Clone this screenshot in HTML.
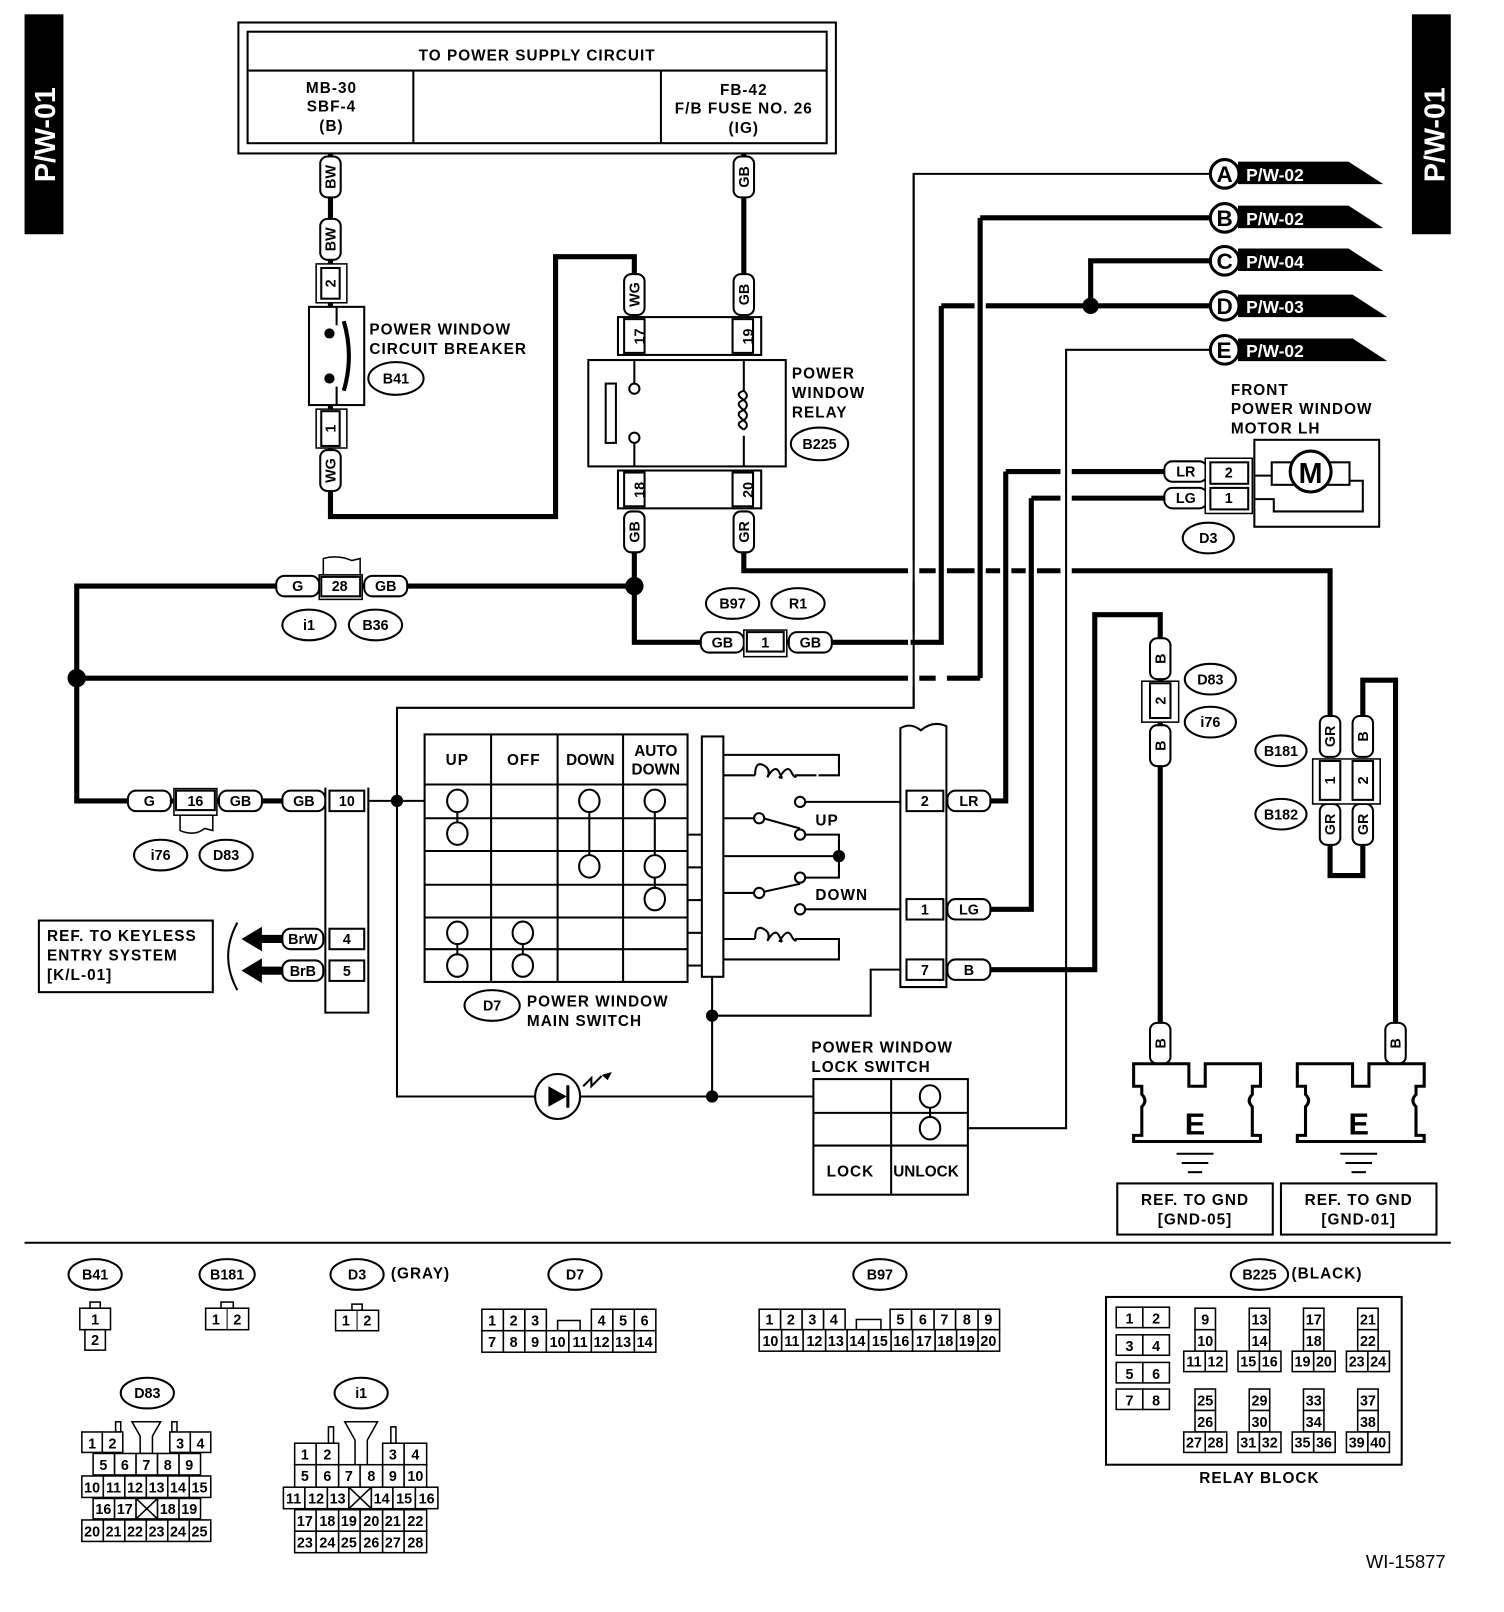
<!DOCTYPE html>
<html><head><meta charset="utf-8"><style>
html,body{margin:0;padding:0;background:#fff}
svg{display:block}
text{font-family:"Liberation Sans",sans-serif;font-weight:bold;fill:#000}
.w{fill:none;stroke:#000;stroke-width:5;stroke-linejoin:miter}
.h{fill:none;stroke:#fff;stroke-width:11}
.n{fill:none;stroke:#000;stroke-width:2}
.b{fill:#fff;stroke:#000;stroke-width:2}
.k{fill:#fff;stroke:#000;stroke-width:1.5}
.l{font-size:15px;letter-spacing:1px}
.s{font-size:14px}
.c{font-size:14px;font-weight:normal}
</style></head><body>
<svg width="1504" height="1612" viewBox="0 0 1470 1576" preserveAspectRatio="none" xmlns="http://www.w3.org/2000/svg">
<rect x="24" y="14" width="38" height="215" fill="#000"/>
<text transform="translate(54,178) rotate(-90)" font-size="28" style="fill:#fff">P/W-01</text>
<rect x="1380" y="14" width="38" height="215" fill="#000"/>
<text transform="translate(1412,178) rotate(-90)" font-size="28" style="fill:#fff">P/W-01</text>

<rect x="233" y="22" width="584" height="128" class="b"/>
<rect x="242" y="31" width="566" height="109" class="b"/>
<line x1="242" y1="69" x2="808" y2="69" class="n"/>
<line x1="404" y1="69" x2="404" y2="140" class="n"/>
<line x1="646" y1="69" x2="646" y2="140" class="n"/>
<g class="l" text-anchor="middle">
<text x="525" y="59">TO POWER SUPPLY CIRCUIT</text>
<text x="324" y="91">MB-30</text><text x="324" y="109">SBF-4</text><text x="324" y="128">(B)</text>
<text x="727" y="93">FB-42</text><text x="727" y="111">F/B FUSE NO. 26</text><text x="727" y="130">(IG)</text>
</g>

<polyline class="w" points="323,150 323,505 543,505 543,251 620,251 620,270"/>
<line class="w" x1="727" y1="150" x2="727" y2="270"/>
<polyline class="w" points="318,783 75,783 75,573 620,573"/>
<polyline class="w" points="620,540 620,628 890,628"/>
<line class="w" x1="75" y1="663" x2="958" y2="663"/>
<polyline class="w" points="727,540 727,558 1300,558 1300,705"/>
<polyline class="n" points="1183,170 893,170 893,692 388,692 388,1072 795,1072"/>
<polyline class="w" points="1183,213 958,213"/>
<polyline class="w" points="1183,299 920,299"/>
<polyline class="w" points="1183,255 1066,255 1066,299"/>
<polyline class="w" points="1140,461 983,461"/>
<polyline class="w" points="1140,487 1008,487"/>
<line class="h" x1="893" y1="548" x2="893" y2="568"/>
<line class="h" x1="920" y1="548" x2="920" y2="568"/>
<line class="h" x1="958" y1="548" x2="958" y2="568"/>
<line class="h" x1="983" y1="548" x2="983" y2="568"/>
<line class="h" x1="1008" y1="548" x2="1008" y2="568"/>
<line class="h" x1="1042" y1="548" x2="1042" y2="568"/>
<line class="h" x1="958" y1="290" x2="958" y2="308"/>
<line class="h" x1="1042" y1="452" x2="1042" y2="496"/>
<line class="h" x1="893" y1="620" x2="893" y2="672"/>
<line class="h" x1="920" y1="655" x2="920" y2="672"/>
<line class="n" x1="893" y1="170" x2="893" y2="692"/>
<polyline class="w" points="958,213 958,663"/>
<polyline class="w" points="920,299 920,628 890,628"/>
<polyline class="w" points="983,461 983,783 968,783"/>
<polyline class="w" points="1008,487 1008,889 968,889"/>
<polyline class="n" points="1183,342 1042,342 1042,1103 946,1103"/>
<polyline class="w" points="968,948 1070,948 1070,601 1134,601 1134,1000"/>
<polyline class="w" points="1332,705 1332,665 1364,665 1364,1000"/>
<polyline class="w" points="1300,825 1300,856 1332,856 1332,825"/>
<circle cx="1066" cy="299" r="8"/>
<circle cx="620" cy="573" r="9"/>
<circle cx="75" cy="663" r="9"/>

<g font-size="22">
<g><path d="M1210,158 L1318,158 L1352,180 L1210,180Z"/><circle cx="1197" cy="170" r="14" class="b" style="stroke-width:3"/><text x="1189" y="178">A</text><text x="1218" y="177" font-size="17" style="fill:#fff">P/W-02</text></g>
<g><path d="M1210,201 L1318,201 L1352,223 L1210,223Z"/><circle cx="1197" cy="213" r="14" class="b" style="stroke-width:3"/><text x="1189" y="221">B</text><text x="1218" y="220" font-size="17" style="fill:#fff">P/W-02</text></g>
<g><path d="M1210,243 L1318,243 L1352,265 L1210,265Z"/><circle cx="1197" cy="255" r="14" class="b" style="stroke-width:3"/><text x="1189" y="263">C</text><text x="1218" y="262" font-size="17" style="fill:#fff">P/W-04</text></g>
<g><path d="M1210,288 L1322,288 L1356,310 L1210,310Z"/><circle cx="1197" cy="299" r="14" class="b" style="stroke-width:3"/><text x="1189" y="307">D</text><text x="1218" y="306" font-size="17" style="fill:#fff">P/W-03</text></g>
<g><path d="M1210,331 L1322,331 L1356,353 L1210,353Z"/><circle cx="1197" cy="342" r="14" class="b" style="stroke-width:3"/><text x="1189" y="350">E</text><text x="1218" y="349" font-size="17" style="fill:#fff">P/W-02</text></g>
</g>

<g class="s" text-anchor="middle">
<rect x="313" y="153" width="20" height="40" rx="7" class="b"/><text transform="translate(328,173) rotate(-90)">BW</text>
<rect x="313" y="214" width="20" height="40" rx="7" class="b"/><text transform="translate(328,234) rotate(-90)">BW</text>
<rect x="313" y="440" width="20" height="40" rx="7" class="b"/><text transform="translate(328,460) rotate(-90)">WG</text>
<rect x="717" y="153" width="20" height="40" rx="7" class="b"/><text transform="translate(732,173) rotate(-90)">GB</text>
<rect x="717" y="268" width="20" height="40" rx="7" class="b"/><text transform="translate(732,288) rotate(-90)">GB</text>
<rect x="610" y="268" width="20" height="40" rx="7" class="b"/><text transform="translate(625,288) rotate(-90)">WG</text>
<rect x="610" y="500" width="20" height="40" rx="7" class="b"/><text transform="translate(625,520) rotate(-90)">GB</text>
<rect x="717" y="500" width="20" height="40" rx="7" class="b"/><text transform="translate(732,520) rotate(-90)">GR</text>
<rect x="1124" y="624" width="20" height="40" rx="7" class="b"/><text transform="translate(1139,644) rotate(-90)">B</text>
<rect x="1124" y="709" width="20" height="40" rx="7" class="b"/><text transform="translate(1139,729) rotate(-90)">B</text>
<rect x="1124" y="1000" width="20" height="40" rx="7" class="b"/><text transform="translate(1139,1020) rotate(-90)">B</text>
<rect x="1354" y="1000" width="20" height="40" rx="7" class="b"/><text transform="translate(1369,1020) rotate(-90)">B</text>
<rect x="1290" y="700" width="20" height="40" rx="7" class="b"/><text transform="translate(1305,720) rotate(-90)">GR</text>
<rect x="1322" y="700" width="20" height="40" rx="7" class="b"/><text transform="translate(1337,720) rotate(-90)">B</text>
<rect x="1290" y="786" width="20" height="40" rx="7" class="b"/><text transform="translate(1305,806) rotate(-90)">GR</text>
<rect x="1322" y="786" width="20" height="40" rx="7" class="b"/><text transform="translate(1337,806) rotate(-90)">GR</text>
</g>
<rect x="309" y="258" width="30" height="38" class="k"/><rect x="314" y="262" width="18" height="30" class="b"/><text x="323" y="277" class="s" text-anchor="middle" transform="rotate(-90 323 277)" dy="5">2</text>
<rect x="309" y="400" width="30" height="38" class="k"/><rect x="314" y="402" width="18" height="34" class="b"/><text x="323" y="419" class="s" text-anchor="middle" transform="rotate(-90 323 419)" dy="5">1</text>
<rect x="302" y="300" width="54" height="96" class="b"/>
<line x1="329" y1="300" x2="329" y2="318" class="n"/><line x1="329" y1="378" x2="329" y2="396" class="n"/>
<path d="M336,314 Q346,348 336,382" class="n" style="stroke-width:4"/>
<circle cx="322" cy="326" r="5"/><circle cx="322" cy="370" r="5"/>
<g class="l"><text x="361" y="327">POWER WINDOW</text><text x="361" y="346">CIRCUIT BREAKER</text></g>
<ellipse cx="387" cy="370" rx="27" ry="16" class="b"/><text x="387" y="375" class="s" text-anchor="middle">B41</text>

<rect x="604" y="310" width="140" height="37" class="b"/>
<rect x="610" y="312" width="20" height="33" class="b"/><rect x="716" y="312" width="20" height="33" class="b"/>
<text transform="translate(625,329) rotate(-90)" class="s" text-anchor="middle" dy="5">17</text>
<text transform="translate(731,329) rotate(-90)" class="s" text-anchor="middle" dy="5">19</text>
<rect x="604" y="460" width="140" height="37" class="b"/>
<rect x="610" y="462" width="20" height="33" class="b"/><rect x="716" y="462" width="20" height="33" class="b"/>
<text transform="translate(625,479) rotate(-90)" class="s" text-anchor="middle" dy="5">18</text>
<text transform="translate(731,479) rotate(-90)" class="s" text-anchor="middle" dy="5">20</text>
<rect x="575" y="352" width="193" height="104" class="b"/>
<rect x="592" y="375" width="10" height="58" class="b"/>
<line x1="620" y1="352" x2="620" y2="375" class="n"/><circle cx="620" cy="380" r="5" class="b"/>
<line x1="620" y1="456" x2="620" y2="433" class="n"/><circle cx="620" cy="428" r="5" class="b"/>
<line x1="727" y1="352" x2="727" y2="382" class="n"/><line x1="727" y1="426" x2="727" y2="456" class="n"/>
<path d="M727,382 q-10,3 0,9 q-10,3 0,10 q-10,3 0,10 q-10,3 0,9 M727,382 q6,5 0,9 q6,5 0,10 q6,5 0,10 q6,5 0,9" class="n"/>
<g class="l"><text x="774" y="370">POWER</text><text x="774" y="389">WINDOW</text><text x="774" y="408">RELAY</text></g>
<ellipse cx="801" cy="434" rx="28" ry="16" class="b"/><text x="801" y="439" class="s" text-anchor="middle">B225</text>

<g class="s" text-anchor="middle">
<rect x="270" y="563" width="42" height="20" rx="8" class="b"/><text x="291" y="578">G</text>
<rect x="356" y="563" width="42" height="20" rx="8" class="b"/><text x="377" y="578">GB</text>
<rect x="685" y="618" width="42" height="20" rx="8" class="b"/><text x="706" y="633">GB</text>
<rect x="771" y="618" width="42" height="20" rx="8" class="b"/><text x="792" y="633">GB</text>
<rect x="125" y="773" width="42" height="20" rx="8" class="b"/><text x="146" y="788">G</text>
<rect x="214" y="773" width="42" height="20" rx="8" class="b"/><text x="235" y="788">GB</text>
<rect x="276" y="773" width="42" height="20" rx="8" class="b"/><text x="297" y="788">GB</text>
<rect x="276" y="908" width="40" height="20" rx="8" class="b"/><text x="296" y="923">BrW</text>
<rect x="276" y="939" width="40" height="20" rx="8" class="b"/><text x="296" y="954">BrB</text>
<rect x="926" y="773" width="42" height="20" rx="8" class="b"/><text x="947" y="788">LR</text>
<rect x="926" y="879" width="42" height="20" rx="8" class="b"/><text x="947" y="894">LG</text>
<rect x="926" y="938" width="42" height="20" rx="8" class="b"/><text x="947" y="953">B</text>
<rect x="1138" y="451" width="42" height="20" rx="8" class="b"/><text x="1159" y="466">LR</text>
<rect x="1138" y="477" width="42" height="20" rx="8" class="b"/><text x="1159" y="492">LG</text>
</g>
<rect x="312" y="562" width="42" height="24" class="k"/><rect x="314" y="564" width="38" height="19" class="b"/><text x="332" y="578" class="s" text-anchor="middle">28</text>
<path d="M316,562 L316,546 Q330,542 344,548 L352,546 L352,562" class="n" style="stroke-width:1.5"/>
<rect x="727" y="616" width="42" height="26" class="k"/><rect x="730" y="618" width="36" height="19" class="b"/><text x="748" y="633" class="s" text-anchor="middle">1</text>
<rect x="170" y="771" width="42" height="26" class="k"/><rect x="172" y="773" width="38" height="19" class="b"/><text x="191" y="788" class="s" text-anchor="middle">16</text>
<path d="M176,797 L176,812 Q190,818 200,810 L208,812 L208,797" class="n" style="stroke-width:1.5"/>
<g class="s" text-anchor="middle">
<ellipse cx="302" cy="611" rx="26" ry="15" class="b"/><text x="302" y="616">i1</text>
<ellipse cx="367" cy="611" rx="26" ry="15" class="b"/><text x="367" y="616">B36</text>
<ellipse cx="716" cy="590" rx="26" ry="15" class="b"/><text x="716" y="595">B97</text>
<ellipse cx="780" cy="590" rx="26" ry="15" class="b"/><text x="780" y="595">R1</text>
<ellipse cx="157" cy="836" rx="26" ry="15" class="b"/><text x="157" y="841">i76</text>
<ellipse cx="221" cy="836" rx="26" ry="15" class="b"/><text x="221" y="841">D83</text>
<ellipse cx="1181" cy="526" rx="25" ry="15" class="b"/><text x="1181" y="531">D3</text>
<ellipse cx="1183" cy="664" rx="25" ry="15" class="b"/><text x="1183" y="669">D83</text>
<ellipse cx="1183" cy="706" rx="25" ry="15" class="b"/><text x="1183" y="711">i76</text>
<ellipse cx="1252" cy="734" rx="25" ry="15" class="b"/><text x="1252" y="739">B181</text>
<ellipse cx="1252" cy="796" rx="25" ry="15" class="b"/><text x="1252" y="801">B182</text>
<ellipse cx="481" cy="983" rx="27" ry="15" class="b"/><text x="481" y="988">D7</text>
</g>

<rect x="1178" y="448" width="46" height="54" class="k"/>
<rect x="1183" y="452" width="37" height="21" class="b"/><text x="1201" y="467" class="s" text-anchor="middle">2</text>
<rect x="1183" y="477" width="37" height="21" class="b"/><text x="1201" y="492" class="s" text-anchor="middle">1</text>
<rect x="1226" y="430" width="122" height="85" class="b"/>
<polyline class="n" points="1226,465 1243,465"/>
<rect x="1243" y="452" width="76" height="22" class="b"/>
<polyline class="n" points="1226,488 1245,488 1245,500 1332,500 1332,470 1319,470"/>
<circle cx="1281" cy="461" r="20" class="b" style="stroke-width:3"/><text x="1281" y="472" text-anchor="middle" font-size="28">M</text>
<g class="l"><text x="1203" y="386">FRONT</text><text x="1203" y="405">POWER WINDOW</text><text x="1203" y="424">MOTOR LH</text></g>

<rect x="1116" y="666" width="36" height="40" class="k"/><rect x="1124" y="668" width="20" height="34" class="b"/><text transform="translate(1134,685) rotate(-90)" class="s" text-anchor="middle" dy="5">2</text>
<rect x="1283" y="742" width="66" height="44" class="k"/>
<rect x="1290" y="744" width="20" height="38" class="b"/><rect x="1322" y="744" width="20" height="38" class="b"/>
<text transform="translate(1300,763) rotate(-90)" class="s" text-anchor="middle" dy="5">1</text>
<text transform="translate(1332,763) rotate(-90)" class="s" text-anchor="middle" dy="5">2</text>

<g>
<path d="M1108,1040 h54 v22 h16 v-22 h54 v22 h-8 v8 q-6,6 0,12 v28 h8 v6 h-124 v-6 h8 v-28 q6,-6 0,-12 v-8 h-8z" class="b" style="stroke-width:3"/>
<text x="1168" y="1109" text-anchor="middle" font-size="30">E</text>
<line x1="1150" y1="1128" x2="1186" y2="1128" class="n"/><line x1="1155" y1="1137" x2="1181" y2="1137" class="n"/><line x1="1161" y1="1146" x2="1175" y2="1146" class="n"/>
<rect x="1092" y="1157" width="152" height="50" class="b"/>
<text x="1168" y="1178" class="l" text-anchor="middle">REF. TO GND</text><text x="1168" y="1197" class="l" text-anchor="middle">[GND-05]</text>
<path d="M1268,1040 h54 v22 h16 v-22 h54 v22 h-8 v8 q-6,6 0,12 v28 h8 v6 h-124 v-6 h8 v-28 q6,-6 0,-12 v-8 h-8z" class="b" style="stroke-width:3"/>
<text x="1328" y="1109" text-anchor="middle" font-size="30">E</text>
<line x1="1310" y1="1128" x2="1346" y2="1128" class="n"/><line x1="1315" y1="1137" x2="1341" y2="1137" class="n"/><line x1="1321" y1="1146" x2="1335" y2="1146" class="n"/>
<rect x="1252" y="1157" width="152" height="50" class="b"/>
<text x="1328" y="1178" class="l" text-anchor="middle">REF. TO GND</text><text x="1328" y="1197" class="l" text-anchor="middle">[GND-01]</text>
</g>

<polyline class="n" points="360,783 415,783"/>
<circle cx="388" cy="783" r="6"/>
<path d="M318,770 L318,990 L360,990 L360,770" class="b"/>
<rect x="322" y="773" width="34" height="20" class="b"/><text x="339" y="788" class="s" text-anchor="middle">10</text>
<rect x="322" y="908" width="34" height="20" class="b"/><text x="339" y="923" class="s" text-anchor="middle">4</text>
<rect x="322" y="939" width="34" height="20" class="b"/><text x="339" y="954" class="s" text-anchor="middle">5</text>
<rect x="38" y="900" width="170" height="70" class="b"/>
<g class="l"><text x="46" y="920">REF. TO KEYLESS</text><text x="46" y="939">ENTRY SYSTEM</text><text x="46" y="958">[K/L-01]</text></g>
<path d="M232,902 Q214,935 232,968" class="n"/>
<path d="M236,918 L256,906 L256,914 L276,914 L276,922 L256,922 L256,930Z"/>
<path d="M236,949 L256,937 L256,945 L276,945 L276,953 L256,953 L256,961Z"/>

<rect x="415" y="718" width="257" height="242" class="b"/>
<g class="n">
<line x1="480" y1="718" x2="480" y2="960"/><line x1="545" y1="718" x2="545" y2="960"/><line x1="609" y1="718" x2="609" y2="960"/>
<line x1="415" y1="767" x2="672" y2="767"/><line x1="415" y1="800" x2="672" y2="800"/><line x1="415" y1="832" x2="672" y2="832"/>
<line x1="415" y1="865" x2="672" y2="865"/><line x1="415" y1="897" x2="672" y2="897"/><line x1="415" y1="928" x2="672" y2="928"/>
<line x1="447" y1="783" x2="447" y2="815"/><line x1="576" y1="783" x2="576" y2="847"/><line x1="640" y1="783" x2="640" y2="879"/>
<line x1="447" y1="912" x2="447" y2="944"/><line x1="511" y1="912" x2="511" y2="944"/>
</g>
<g class="b">
<ellipse cx="447" cy="783" rx="10" ry="11"/><ellipse cx="447" cy="815" rx="10" ry="11"/>
<ellipse cx="576" cy="783" rx="10" ry="11"/><ellipse cx="576" cy="847" rx="10" ry="11"/>
<ellipse cx="640" cy="783" rx="10" ry="11"/><ellipse cx="640" cy="847" rx="10" ry="11"/><ellipse cx="640" cy="879" rx="10" ry="11"/>
<ellipse cx="447" cy="912" rx="10" ry="11"/><ellipse cx="447" cy="944" rx="10" ry="11"/>
<ellipse cx="511" cy="912" rx="10" ry="11"/><ellipse cx="511" cy="944" rx="10" ry="11"/>
</g>
<g class="l" text-anchor="middle"><text x="447" y="748">UP</text><text x="512" y="748">OFF</text><text x="577" y="748" letter-spacing="0">DOWN</text><text x="641" y="739" letter-spacing="0">AUTO</text><text x="641" y="757" letter-spacing="0">DOWN</text></g>
<g class="n"><line x1="672" y1="816" x2="686" y2="816"/><line x1="672" y1="848" x2="686" y2="848"/><line x1="672" y1="880" x2="686" y2="880"/><line x1="672" y1="912" x2="686" y2="912"/><line x1="672" y1="944" x2="686" y2="944"/></g>
<rect x="686" y="720" width="21" height="235" class="b"/>
<g class="n">
<polyline points="707,738 820,738 820,758 800,758"/>
<polyline points="707,758 738,758"/>
<path d="M738,758 q0,-14 8,-10 q8,4 4,12 q8,-14 12,-4 q4,6 0,4 q8,-14 12,-4 q4,6 4,2 h20"/>
<line x1="787" y1="784" x2="880" y2="784"/>
<line x1="707" y1="800" x2="742" y2="800"/><line x1="746" y1="800" x2="782" y2="810"/>
<polyline points="787,816 820,816 820,858 787,858"/>
<line x1="707" y1="837" x2="820" y2="837"/>
<line x1="707" y1="873" x2="742" y2="873"/><line x1="746" y1="872" x2="782" y2="864"/>
<line x1="787" y1="889" x2="880" y2="889"/>
<polyline points="707,918 738,918"/>
<path d="M738,918 q0,-14 8,-10 q8,4 4,12 q8,-14 12,-4 q4,6 0,4 q8,-14 12,-4 q4,6 4,2 h20"/>
<polyline points="798,918 820,918 820,938 707,938"/>
<polyline points="696,955 696,1072"/>
<polyline points="696,993 851,993 851,948 880,948"/>
</g>
<g class="b"><circle cx="782" cy="784" r="5"/><circle cx="742" cy="800" r="5"/><circle cx="782" cy="816" r="5"/><circle cx="782" cy="858" r="5"/><circle cx="742" cy="873" r="5"/><circle cx="782" cy="889" r="5"/></g>
<circle cx="820" cy="837" r="6"/><circle cx="696" cy="993" r="6"/><circle cx="696" cy="1072" r="6"/>
<g class="l"><text x="797" y="807">UP</text><text x="797" y="880">DOWN</text><text x="515" y="984">POWER WINDOW</text><text x="515" y="1003">MAIN SWITCH</text></g>
<path d="M880,965 L880,712 Q890,706 900,714 Q912,704 925,710 L925,965 Z" class="n"/>
<rect x="886" y="773" width="36" height="20" class="b"/><text x="904" y="788" class="s" text-anchor="middle">2</text>
<rect x="886" y="879" width="36" height="20" class="b"/><text x="904" y="894" class="s" text-anchor="middle">1</text>
<rect x="886" y="938" width="36" height="20" class="b"/><text x="904" y="953" class="s" text-anchor="middle">7</text>
<circle cx="545" cy="1072" r="22" class="b"/>
<path d="M536,1062 L554,1072 L536,1082Z"/><line x1="555" y1="1061" x2="555" y2="1083" class="n" style="stroke-width:3"/>
<path d="M570,1062 l8,-8 l0,8 l10,-10" class="n"/><path d="M598,1048 l-10,3 l6,5z"/>
<rect x="795" y="1055" width="151" height="113" class="b"/>
<g class="n"><line x1="871" y1="1055" x2="871" y2="1168"/><line x1="795" y1="1088" x2="946" y2="1088"/><line x1="795" y1="1120" x2="946" y2="1120"/><line x1="909" y1="1072" x2="909" y2="1103"/></g>
<ellipse cx="909" cy="1072" rx="10" ry="11" class="b"/><ellipse cx="909" cy="1103" rx="10" ry="11" class="b"/>
<g class="l"><text x="808" y="1150">LOCK</text><text x="873" y="1150" letter-spacing="0">UNLOCK</text><text x="793" y="1029">POWER WINDOW</text><text x="793" y="1048">LOCK SWITCH</text></g>

<line x1="24" y1="1215" x2="1418" y2="1215" class="n"/>

<g class="s" text-anchor="middle">
<ellipse cx="93" cy="1246" rx="26" ry="15" class="b"/><text x="93" y="1251">B41</text>
<ellipse cx="222" cy="1246" rx="27" ry="15" class="b"/><text x="222" y="1251">B181</text>
<ellipse cx="349" cy="1246" rx="26" ry="15" class="b"/><text x="349" y="1251">D3</text>
<text x="411" y="1250" class="l">(GRAY)</text>
<ellipse cx="562" cy="1246" rx="26" ry="15" class="b"/><text x="562" y="1251">D7</text>
<ellipse cx="860" cy="1246" rx="26" ry="15" class="b"/><text x="860" y="1251">B97</text>
<ellipse cx="1231" cy="1246" rx="28" ry="15" class="b"/><text x="1231" y="1251">B225</text>
<text x="1297" y="1250" class="l">(BLACK)</text>
<ellipse cx="144" cy="1362" rx="26" ry="15" class="b"/><text x="144" y="1367">D83</text>
<ellipse cx="353" cy="1362" rx="26" ry="15" class="b"/><text x="353" y="1367">i1</text>
</g>
<g class="c" text-anchor="middle">
<rect x="88" y="1273" width="10" height="6" class="k"/>
<rect x="78" y="1279" width="30" height="21" class="k"/><text x="93" y="1295">1</text>
<rect x="83" y="1300" width="20" height="20" class="k"/><text x="93" y="1315">2</text>
<rect x="216" y="1273" width="12" height="6" class="k"/>
<rect x="201" y="1279" width="42" height="21" class="k"/><line x1="222" y1="1279" x2="222" y2="1300" stroke="#000"/><text x="211" y="1295">1</text><text x="232" y="1295">2</text>
<rect x="344" y="1275" width="10" height="6" class="k"/>
<rect x="328" y="1281" width="42" height="20" class="k"/><line x1="349" y1="1281" x2="349" y2="1301" stroke="#000"/><text x="338" y="1296">1</text><text x="359" y="1296">2</text>
<rect x="545" y="1291" width="22" height="10" class="k"/>
<rect x="471" y="1280" width="21" height="21" class="k"/><text x="481" y="1296">1</text>
<rect x="492" y="1280" width="21" height="21" class="k"/><text x="502" y="1296">2</text>
<rect x="513" y="1280" width="21" height="21" class="k"/><text x="523" y="1296">3</text>
<rect x="578" y="1280" width="21" height="21" class="k"/><text x="588" y="1296">4</text>
<rect x="599" y="1280" width="21" height="21" class="k"/><text x="609" y="1296">5</text>
<rect x="620" y="1280" width="21" height="21" class="k"/><text x="630" y="1296">6</text>
<rect x="471" y="1301" width="21" height="21" class="k"/><text x="481" y="1317">7</text>
<rect x="492" y="1301" width="21" height="21" class="k"/><text x="502" y="1317">8</text>
<rect x="513" y="1301" width="21" height="21" class="k"/><text x="523" y="1317">9</text>
<rect x="534" y="1301" width="22" height="21" class="k"/><text x="545" y="1317">10</text>
<rect x="556" y="1301" width="22" height="21" class="k"/><text x="567" y="1317">11</text>
<rect x="578" y="1301" width="21" height="21" class="k"/><text x="588" y="1317">12</text>
<rect x="599" y="1301" width="21" height="21" class="k"/><text x="609" y="1317">13</text>
<rect x="620" y="1301" width="21" height="21" class="k"/><text x="630" y="1317">14</text>
<rect x="837" y="1290" width="24" height="10" class="k"/>
<rect x="742" y="1280" width="21" height="20" class="k"/><text x="752" y="1295">1</text>
<rect x="763" y="1280" width="21" height="20" class="k"/><text x="773" y="1295">2</text>
<rect x="784" y="1280" width="21" height="20" class="k"/><text x="794" y="1295">3</text>
<rect x="805" y="1280" width="21" height="20" class="k"/><text x="815" y="1295">4</text>
<rect x="870" y="1280" width="21" height="20" class="k"/><text x="880" y="1295">5</text>
<rect x="891" y="1280" width="22" height="20" class="k"/><text x="902" y="1295">6</text>
<rect x="913" y="1280" width="21" height="20" class="k"/><text x="923" y="1295">7</text>
<rect x="934" y="1280" width="22" height="20" class="k"/><text x="945" y="1295">8</text>
<rect x="956" y="1280" width="21" height="20" class="k"/><text x="966" y="1295">9</text>
<rect x="742" y="1300" width="22" height="21" class="k"/><text x="753" y="1316">10</text>
<rect x="764" y="1300" width="21" height="21" class="k"/><text x="774" y="1316">11</text>
<rect x="785" y="1300" width="22" height="21" class="k"/><text x="796" y="1316">12</text>
<rect x="807" y="1300" width="21" height="21" class="k"/><text x="817" y="1316">13</text>
<rect x="828" y="1300" width="21" height="21" class="k"/><text x="838" y="1316">14</text>
<rect x="849" y="1300" width="22" height="21" class="k"/><text x="860" y="1316">15</text>
<rect x="871" y="1300" width="21" height="21" class="k"/><text x="881" y="1316">16</text>
<rect x="892" y="1300" width="22" height="21" class="k"/><text x="903" y="1316">17</text>
<rect x="914" y="1300" width="21" height="21" class="k"/><text x="924" y="1316">18</text>
<rect x="935" y="1300" width="21" height="21" class="k"/><text x="945" y="1316">19</text>
<rect x="956" y="1300" width="21" height="21" class="k"/><text x="966" y="1316">20</text>
<rect x="113" y="1390" width="5" height="10" class="k"/><rect x="168" y="1390" width="5" height="10" class="k"/>
<path d="M129,1390 h28 l-8,14 v17 h-12 v-17z" class="k"/>
<rect x="80" y="1400" width="20" height="20" class="k"/><text x="90" y="1416">1</text>
<rect x="100" y="1400" width="20" height="20" class="k"/><text x="110" y="1416">2</text>
<rect x="166" y="1400" width="20" height="20" class="k"/><text x="176" y="1416">3</text>
<rect x="186" y="1400" width="20" height="20" class="k"/><text x="196" y="1416">4</text>
<rect x="91" y="1421" width="21" height="21" class="k"/><text x="101" y="1437">5</text>
<rect x="112" y="1421" width="21" height="21" class="k"/><text x="122" y="1437">6</text>
<rect x="133" y="1421" width="21" height="21" class="k"/><text x="143" y="1437">7</text>
<rect x="154" y="1421" width="21" height="21" class="k"/><text x="164" y="1437">8</text>
<rect x="175" y="1421" width="21" height="21" class="k"/><text x="185" y="1437">9</text>
<rect x="80" y="1443" width="21" height="21" class="k"/><text x="90" y="1459">10</text>
<rect x="101" y="1443" width="21" height="21" class="k"/><text x="111" y="1459">11</text>
<rect x="122" y="1443" width="21" height="21" class="k"/><text x="132" y="1459">12</text>
<rect x="143" y="1443" width="21" height="21" class="k"/><text x="153" y="1459">13</text>
<rect x="164" y="1443" width="21" height="21" class="k"/><text x="174" y="1459">14</text>
<rect x="185" y="1443" width="21" height="21" class="k"/><text x="195" y="1459">15</text>
<rect x="91" y="1465" width="21" height="20" class="k"/><text x="101" y="1480">16</text>
<rect x="112" y="1465" width="21" height="20" class="k"/><text x="122" y="1480">17</text>
<rect x="133" y="1465" width="21" height="20" class="k"/><path d="M133,1465 l21,20 M154,1465 l-21,20" stroke="#000" stroke-width="1.5"/>
<rect x="154" y="1465" width="21" height="20" class="k"/><text x="164" y="1480">18</text>
<rect x="175" y="1465" width="21" height="20" class="k"/><text x="185" y="1480">19</text>
<rect x="80" y="1486" width="21" height="21" class="k"/><text x="90" y="1502">20</text>
<rect x="101" y="1486" width="21" height="21" class="k"/><text x="111" y="1502">21</text>
<rect x="122" y="1486" width="21" height="21" class="k"/><text x="132" y="1502">22</text>
<rect x="143" y="1486" width="21" height="21" class="k"/><text x="153" y="1502">23</text>
<rect x="164" y="1486" width="21" height="21" class="k"/><text x="174" y="1502">24</text>
<rect x="185" y="1486" width="21" height="21" class="k"/><text x="195" y="1502">25</text>
<rect x="321" y="1395" width="5" height="16" class="k"/><rect x="382" y="1395" width="5" height="16" class="k"/>
<path d="M337,1390 h32 l-10,18 v24 h-12 v-24z" class="k"/>
<rect x="288" y="1411" width="21" height="21" class="k"/><text x="298" y="1427">1</text>
<rect x="309" y="1411" width="22" height="21" class="k"/><text x="320" y="1427">2</text>
<rect x="374" y="1411" width="21" height="21" class="k"/><text x="384" y="1427">3</text>
<rect x="395" y="1411" width="22" height="21" class="k"/><text x="406" y="1427">4</text>
<rect x="288" y="1432" width="21" height="22" class="k"/><text x="298" y="1448">5</text>
<rect x="309" y="1432" width="22" height="22" class="k"/><text x="320" y="1448">6</text>
<rect x="331" y="1432" width="21" height="22" class="k"/><text x="341" y="1448">7</text>
<rect x="352" y="1432" width="22" height="22" class="k"/><text x="363" y="1448">8</text>
<rect x="374" y="1432" width="21" height="22" class="k"/><text x="384" y="1448">9</text>
<rect x="395" y="1432" width="22" height="22" class="k"/><text x="406" y="1448">10</text>
<rect x="277" y="1454" width="21" height="21" class="k"/><text x="287" y="1470">11</text>
<rect x="298" y="1454" width="22" height="21" class="k"/><text x="309" y="1470">12</text>
<rect x="320" y="1454" width="21" height="21" class="k"/><text x="330" y="1470">13</text>
<rect x="341" y="1454" width="22" height="21" class="k"/><path d="M341,1454 l22,21 M363,1454 l-22,21" stroke="#000" stroke-width="1.5"/>
<rect x="363" y="1454" width="21" height="21" class="k"/><text x="373" y="1470">14</text>
<rect x="384" y="1454" width="22" height="21" class="k"/><text x="395" y="1470">15</text>
<rect x="406" y="1454" width="22" height="21" class="k"/><text x="417" y="1470">16</text>
<rect x="288" y="1476" width="21" height="21" class="k"/><text x="298" y="1492">17</text>
<rect x="309" y="1476" width="22" height="21" class="k"/><text x="320" y="1492">18</text>
<rect x="331" y="1476" width="21" height="21" class="k"/><text x="341" y="1492">19</text>
<rect x="352" y="1476" width="22" height="21" class="k"/><text x="363" y="1492">20</text>
<rect x="374" y="1476" width="21" height="21" class="k"/><text x="384" y="1492">21</text>
<rect x="395" y="1476" width="22" height="21" class="k"/><text x="406" y="1492">22</text>
<rect x="288" y="1497" width="21" height="21" class="k"/><text x="298" y="1513">23</text>
<rect x="309" y="1497" width="22" height="21" class="k"/><text x="320" y="1513">24</text>
<rect x="331" y="1497" width="21" height="21" class="k"/><text x="341" y="1513">25</text>
<rect x="352" y="1497" width="22" height="21" class="k"/><text x="363" y="1513">26</text>
<rect x="374" y="1497" width="21" height="21" class="k"/><text x="384" y="1513">27</text>
<rect x="395" y="1497" width="22" height="21" class="k"/><text x="406" y="1513">28</text>
<rect x="1081" y="1268" width="289" height="164" class="k" style="stroke-width:2"/>
<rect x="1091" y="1278" width="26" height="20" class="k"/><text x="1104" y="1294">1</text><rect x="1117" y="1278" width="26" height="20" class="k"/><text x="1130" y="1294">2</text>
<rect x="1091" y="1305" width="26" height="20" class="k"/><text x="1104" y="1321">3</text><rect x="1117" y="1305" width="26" height="20" class="k"/><text x="1130" y="1321">4</text>
<rect x="1091" y="1332" width="26" height="20" class="k"/><text x="1104" y="1348">5</text><rect x="1117" y="1332" width="26" height="20" class="k"/><text x="1130" y="1348">6</text>
<rect x="1091" y="1358" width="26" height="20" class="k"/><text x="1104" y="1374">7</text><rect x="1117" y="1358" width="26" height="20" class="k"/><text x="1130" y="1374">8</text>
<rect x="1168" y="1279" width="20" height="21" class="k"/><text x="1178" y="1295">9</text><rect x="1168" y="1300" width="20" height="21" class="k"/><text x="1178" y="1316">10</text>
<rect x="1157" y="1321" width="21" height="20" class="k"/><text x="1167" y="1336">11</text><rect x="1178" y="1321" width="21" height="20" class="k"/><text x="1188" y="1336">12</text>
<rect x="1221" y="1279" width="20" height="21" class="k"/><text x="1231" y="1295">13</text><rect x="1221" y="1300" width="20" height="21" class="k"/><text x="1231" y="1316">14</text>
<rect x="1210" y="1321" width="21" height="20" class="k"/><text x="1220" y="1336">15</text><rect x="1231" y="1321" width="21" height="20" class="k"/><text x="1241" y="1336">16</text>
<rect x="1274" y="1279" width="20" height="21" class="k"/><text x="1284" y="1295">17</text><rect x="1274" y="1300" width="20" height="21" class="k"/><text x="1284" y="1316">18</text>
<rect x="1263" y="1321" width="21" height="20" class="k"/><text x="1273" y="1336">19</text><rect x="1284" y="1321" width="21" height="20" class="k"/><text x="1294" y="1336">20</text>
<rect x="1327" y="1279" width="20" height="21" class="k"/><text x="1337" y="1295">21</text><rect x="1327" y="1300" width="20" height="21" class="k"/><text x="1337" y="1316">22</text>
<rect x="1316" y="1321" width="21" height="20" class="k"/><text x="1326" y="1336">23</text><rect x="1337" y="1321" width="21" height="20" class="k"/><text x="1347" y="1336">24</text>
<rect x="1168" y="1358" width="20" height="21" class="k"/><text x="1178" y="1374">25</text><rect x="1168" y="1379" width="20" height="21" class="k"/><text x="1178" y="1395">26</text>
<rect x="1157" y="1400" width="21" height="20" class="k"/><text x="1167" y="1415">27</text><rect x="1178" y="1400" width="21" height="20" class="k"/><text x="1188" y="1415">28</text>
<rect x="1221" y="1358" width="20" height="21" class="k"/><text x="1231" y="1374">29</text><rect x="1221" y="1379" width="20" height="21" class="k"/><text x="1231" y="1395">30</text>
<rect x="1210" y="1400" width="21" height="20" class="k"/><text x="1220" y="1415">31</text><rect x="1231" y="1400" width="21" height="20" class="k"/><text x="1241" y="1415">32</text>
<rect x="1274" y="1358" width="20" height="21" class="k"/><text x="1284" y="1374">33</text><rect x="1274" y="1379" width="20" height="21" class="k"/><text x="1284" y="1395">34</text>
<rect x="1263" y="1400" width="21" height="20" class="k"/><text x="1273" y="1415">35</text><rect x="1284" y="1400" width="21" height="20" class="k"/><text x="1294" y="1415">36</text>
<rect x="1327" y="1358" width="20" height="21" class="k"/><text x="1337" y="1374">37</text><rect x="1327" y="1379" width="20" height="21" class="k"/><text x="1337" y="1395">38</text>
<rect x="1316" y="1400" width="21" height="20" class="k"/><text x="1326" y="1415">39</text><rect x="1337" y="1400" width="21" height="20" class="k"/><text x="1347" y="1415">40</text>
</g>
<text x="1231" y="1450" class="l" text-anchor="middle">RELAY BLOCK</text>
<text x="1413" y="1533" font-size="18" text-anchor="end" style="font-weight:normal">WI-15877</text>
</svg>
</body></html>
